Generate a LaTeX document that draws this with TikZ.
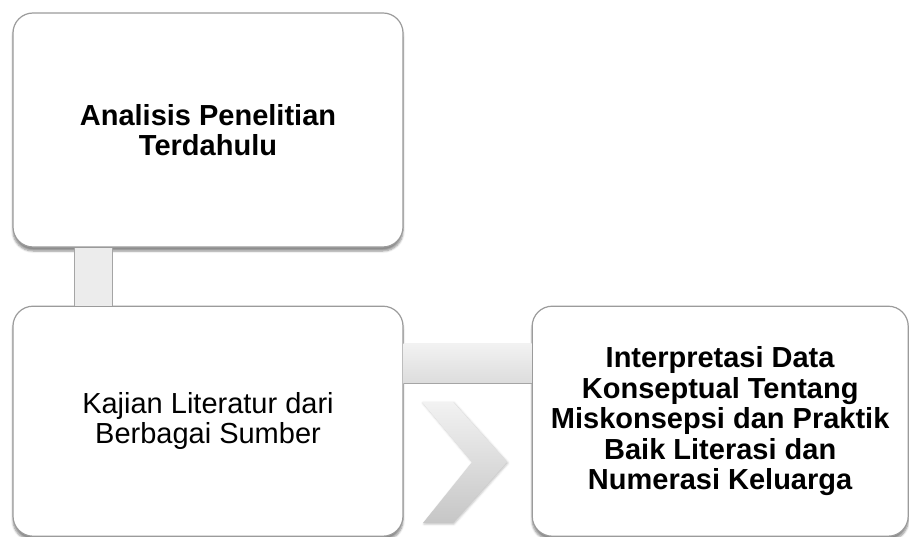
\documentclass[tikz,border=0pt]{standalone}
\usepackage{fontspec}
\setmainfont{Liberation Sans}
\usetikzlibrary{
  positioning,
  shadows.blur
}
\definecolor{cardline}{RGB}{155,155,155}
\definecolor{barfill}{RGB}{236,236,236}
\definecolor{barline}{RGB}{165,165,165}
\definecolor{barlight}{RGB}{242,242,242}
\definecolor{bardark}{RGB}{220,220,220}

\begin{document}
\begin{tikzpicture}[
  x=1pt, y=-1pt,
  card/.style={
    rectangle, rounded corners=20pt,
    draw=cardline, fill=white, line width=1.2pt,
    minimum width=390pt, minimum height=230pt,
    align=center, font=\fontsize{29}{30.5}\selectfont,
    blur shadow={shadow xshift=0pt, shadow yshift=-4pt,
      shadow blur steps=6, shadow opacity=45}
  },
  vbar/.style={fill=barfill},
  rim/.style={draw=barline, line width=0.8pt},
  hbar/.style={top color=barlight, bottom color=bardark},
  chevron/.style={top color=barlight, bottom color=bardark!90!black,
    blur shadow={shadow xshift=1pt, shadow yshift=-1pt,
      shadow blur steps=3, shadow opacity=25}}
]
  \useasboundingbox (0,0) rectangle (909,537);

  \node[card, minimum height=234pt] (res) at (208,130)
    {\textbf{Analisis Penelitian}\\\textbf{Terdahulu}};
  \node[card, below=58pt of res] (lit)
    {Kajian Literatur dari\\Berbagai Sumber};
  \node[card, minimum width=376pt, right=128pt of lit] (interp)
    {\textbf{Interpretasi Data}\\\textbf{Konseptual Tentang}\\
     \textbf{Miskonsepsi dan Praktik}\\\textbf{Baik Literasi dan}\\
     \textbf{Numerasi Keluarga}};

  \fill[vbar] ([xshift=62pt]res.south west) rectangle ([xshift=100pt]lit.north west);
  \draw[rim] ([xshift=62pt]res.south west) -- ([xshift=62pt]lit.north west);
  \draw[rim] ([xshift=100pt]res.south west) -- ([xshift=100pt]lit.north west);

  \shade[hbar] ([yshift=-38pt]lit.north east) rectangle ([yshift=-78pt]interp.north west);
  \draw[rim, line width=1.5pt] ([yshift=-78pt]lit.north east) -- ([yshift=-78pt]interp.north west);

  \shade[chevron] (422,402) -- (453,402) -- (507,462) -- (453,523)
    -- (423,523) -- (472,462) -- cycle;
\end{tikzpicture}
\end{document}
